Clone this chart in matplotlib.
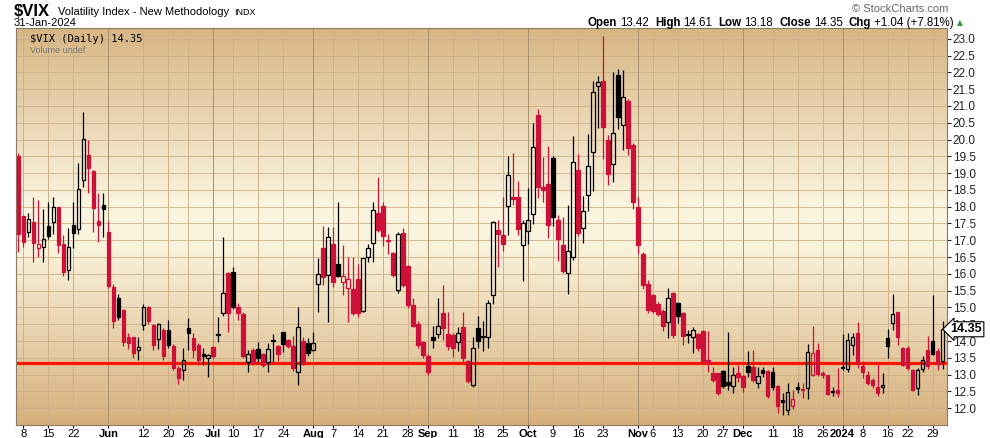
import matplotlib
matplotlib.use("Agg")
import matplotlib.pyplot as plt
import numpy as np
from matplotlib.patches import Rectangle
from matplotlib.colors import LinearSegmentedColormap

plt.rcParams["font.family"] = ["Liberation Sans", "DejaVu Sans"]

# daily OHLC, 5-May-2023 .. 31-Jan-2024
opens = [19.5, 17.72, 17.26, 17.55, 16.78, 16.81, 17.43, 17.53, 17.98, 16.9,
         16.1, 17.46, 17.34, 18.79, 19.54, 19.07, 17.56, 18.05, 17.26, 15.62,
         15.27, 14.92, 14.13, 14.13, 13.74, 14.47, 15.0, 14.48, 14.06, 14.34,
         14.34, 13.85, 13.2, 13.15, 14.4, 14.08, 13.88, 13.62, 13.48, 13.83,
         14.2, 14.83, 16.02, 16.07, 15.02, 14.8, 13.39, 13.73, 13.75, 13.61,
         13.39, 14.02, 13.86, 14.26, 14.03, 13.86, 13.09, 14.0, 13.95, 13.73,
         15.7, 16.76, 15.97, 16.89, 16.3, 15.77, 15.57, 15.54, 15.86, 14.88,
         16.51, 16.93, 17.8, 18.02, 17.0, 16.61, 15.52, 17.23, 16.24, 15.07,
         14.5, 13.96, 13.56, 14.13, 14.21, 14.83, 14.2, 14.17, 13.98, 14.43,
         13.4, 12.69, 14.38, 14.13, 14.11, 15.38, 17.32, 17.15, 18.01, 18.3,
         18.3, 16.85, 17.29, 17.79, 20.73, 18.6, 18.67, 19.45, 17.59, 16.85,
         16.03, 16.49, 19.1, 17.38, 18.34, 19.63, 21.6, 21.73, 20.0, 19.27,
         21.93, 20.43, 21.16, 19.85, 18.0, 16.59, 15.7, 15.37, 15.1, 14.9,
         14.58, 15.42, 15.14, 14.83, 14.2, 14.13, 14.2, 14.3, 13.44, 13.04,
         13.04, 13.12, 12.78, 12.66, 13.04, 12.96, 13.26, 13.24, 12.74, 13.14,
         13.12, 13.09, 12.66, 12.22, 11.95, 12.07, 12.62, 12.57, 12.6, 13.0,
         13.73, 13.05, 12.99, 12.5, 12.55, 13.22, 13.16, 13.88, 14.23, 13.25,
         13.0, 12.84, 12.62, 12.62, 14.08, 14.55, 14.85, 13.8, 13.78, 13.14,
         12.6, 13.16, 13.72, 14.0, 13.69, 13.42]
highs = [19.6, 17.75, 17.8, 18.3, 18.2, 17.92, 18.15, 18.28, 17.99, 17.16,
         17.38, 18.15, 19.31, 20.83, 19.99, 19.1, 18.4, 18.4, 17.56, 15.7,
         15.4, 14.95, 14.25, 14.13, 14.13, 15.1, 15.05, 14.5, 14.53, 14.4,
         14.64, 13.9, 13.25, 13.78, 14.68, 14.23, 13.95, 13.78, 13.6, 13.85,
         14.72, 17.11, 16.07, 16.2, 15.12, 14.85, 13.73, 13.78, 13.98, 13.65,
         13.93, 14.2, 13.88, 14.28, 14.05, 14.15, 15.02, 14.13, 14.08, 14.28,
         16.46, 17.43, 17.4, 17.4, 18.15, 16.86, 16.51, 16.51, 16.3, 16.48,
         16.9, 18.15, 18.89, 18.15, 17.2, 16.65, 17.26, 17.36, 16.26, 15.27,
         14.6, 14.0, 13.6, 14.45, 15.27, 15.67, 14.87, 14.23, 14.43, 14.87,
         13.45, 14.13, 14.74, 14.6, 15.22, 17.57, 17.6, 18.3, 19.5, 19.6,
         18.75, 17.61, 18.56, 20.49, 20.9, 19.47, 19.82, 19.5, 17.76, 17.68,
         18.06, 20.11, 19.57, 18.31, 20.16, 21.73, 21.9, 23.08, 20.14, 22.0,
         22.1, 22.08, 21.21, 19.9, 18.3, 16.65, 15.82, 15.4, 15.15, 14.95,
         15.57, 15.45, 15.17, 14.85, 14.33, 14.43, 14.23, 14.33, 14.3, 13.24,
         13.06, 13.15, 14.28, 13.24, 13.29, 13.0, 13.69, 13.74, 13.24, 13.24,
         13.15, 13.24, 12.7, 12.44, 12.74, 12.55, 12.79, 12.74, 13.91, 14.45,
         13.93, 13.1, 13.0, 12.62, 13.2, 14.2, 14.23, 14.23, 14.58, 13.4,
         13.1, 12.9, 13.33, 13.05, 14.35, 15.4, 14.87, 13.83, 13.85, 13.17,
         13.19, 13.56, 14.15, 15.37, 13.79, 14.61]
lows = [16.65, 16.8, 17.1, 16.35, 16.5, 16.35, 17.03, 17.2, 16.63, 15.95,
        15.82, 16.78, 17.2, 18.6, 18.4, 17.26, 16.96, 17.1, 15.57, 14.4,
        14.63, 13.85, 13.75, 13.49, 13.45, 14.34, 14.5, 13.73, 13.76, 13.45,
        13.8, 13.15, 12.72, 12.84, 13.73, 13.49, 13.3, 13.3, 12.92, 13.5,
        13.98, 14.74, 14.28, 14.95, 14.63, 13.49, 13.09, 13.3, 13.39, 13.24,
        13.09, 13.39, 13.4, 13.68, 13.8, 13.1, 12.7, 13.3, 13.55, 13.71,
        14.87, 15.67, 14.58, 15.6, 15.9, 15.37, 14.58, 14.77, 14.72, 14.85,
        16.36, 16.36, 17.25, 16.83, 16.6, 15.9, 15.44, 15.6, 14.97, 14.42,
        13.8, 13.5, 12.99, 13.78, 14.08, 14.03, 13.74, 13.53, 13.69, 13.39,
        12.74, 12.64, 13.78, 13.7, 13.79, 15.1, 16.2, 16.67, 17.17, 18.05,
        17.17, 15.78, 16.89, 17.49, 18.26, 18.14, 17.07, 17.42, 16.37, 16.03,
        15.4, 16.4, 17.12, 16.92, 17.86, 18.46, 20.34, 19.43, 18.64, 18.74,
        20.3, 19.7, 19.53, 17.94, 16.6, 15.55, 14.83, 14.83, 14.75, 14.3,
        14.08, 14.1, 14.55, 13.88, 13.93, 13.65, 13.7, 13.38, 13.09, 12.79,
        12.4, 12.6, 12.55, 12.45, 12.79, 12.47, 12.94, 12.79, 12.6, 12.94,
        12.3, 12.55, 11.85, 11.8, 11.8, 11.98, 12.45, 12.3, 12.27, 12.95,
        12.95, 12.9, 12.38, 12.35, 12.33, 13.15, 13.09, 13.58, 13.2, 12.9,
        12.7, 12.6, 12.35, 12.45, 13.48, 14.33, 13.88, 13.25, 13.15, 12.5,
        12.4, 13.09, 13.16, 13.59, 13.14, 13.18]
closes = [17.19, 16.96, 17.63, 16.92, 16.88, 17.03, 17.12, 17.99, 16.87, 16.05,
          16.81, 17.21, 18.53, 20.03, 19.14, 17.95, 17.46, 17.94, 15.65, 14.60,
          14.73, 13.96, 13.94, 13.65, 13.83, 15.01, 14.61, 13.88, 14.50, 13.54,
          13.88, 13.20, 12.91, 13.44, 14.25, 13.74, 13.43, 13.54, 13.59, 13.55,
          14.17, 15.44, 14.83, 15.02, 14.83, 13.54, 13.61, 13.34, 13.48, 13.30,
          13.76, 13.99, 13.60, 13.91, 13.86, 13.19, 14.41, 13.33, 13.63, 13.93,
          16.00, 15.92, 17.10, 15.77, 15.95, 15.93, 15.85, 14.84, 14.82, 16.46,
          16.78, 17.89, 17.30, 17.13, 16.97, 15.98, 17.20, 15.68, 15.08, 14.45,
          13.88, 13.57, 13.09, 14.02, 14.45, 14.40, 13.84, 13.80, 14.23, 13.48,
          12.82, 13.79, 14.00, 14.11, 15.14, 17.54, 17.20, 16.90, 18.94, 18.22,
          17.34, 17.52, 17.61, 19.78, 18.58, 18.49, 17.45, 17.70, 17.03, 16.09,
          16.69, 19.32, 17.21, 17.88, 19.22, 21.40, 21.71, 20.37, 18.97, 20.19,
          20.68, 21.27, 19.75, 18.14, 16.87, 15.66, 14.91, 14.89, 14.81, 14.45,
          15.29, 14.17, 14.76, 14.16, 14.18, 14.32, 13.80, 13.41, 13.35, 12.85,
          12.46, 12.66, 12.69, 12.98, 12.92, 12.63, 13.08, 12.85, 12.97, 13.06,
          12.35, 12.63, 12.07, 12.19, 12.48, 12.28, 12.56, 12.53, 13.67, 13.65,
          13.03, 12.99, 12.43, 12.47, 12.45, 13.20, 14.04, 14.13, 13.35, 13.08,
          12.76, 12.69, 12.44, 12.70, 13.84, 14.79, 14.13, 13.30, 13.19, 12.55,
          13.14, 13.45, 13.26, 13.60, 13.31, 14.35]
prev_close_start = 20.09

tick_idx = [1, 6, 11, 18, 25, 30, 34, 39, 43, 48, 53, 59, 63, 68, 73, 78,
            82, 87, 92, 97, 102, 107, 112, 117, 124, 127, 132, 137, 141,
            145, 151, 156, 161, 165, 169, 174, 178, 183]
tick_labels = ["8", "15", "22", "Jun", "12", "20", "26", "Jul", "10", "17",
               "24", "Aug", "7", "14", "21", "28", "Sep", "11", "18", "25",
               "Oct", "9", "16", "23", "Nov", "6", "13", "20", "27", "Dec",
               "11", "18", "26", "2024", "8", "16", "22", "29"]
month_names = ["Jun", "Jul", "Aug", "Sep", "Oct", "Nov", "Dec", "2024"]
support_level = 13.35

RED = "#cc1038"

fig = plt.figure(figsize=(9.9, 4.38), dpi=100)
ax = fig.add_axes([16 / 990, 13 / 438, 931 / 990, 397 / 438])
ymin, ymax = 11.50, 23.32
xmin, xmax = -0.5, 185.9
ax.set_xlim(xmin, xmax)
ax.set_ylim(ymin, ymax)

# tan -> cream -> tan background
cmap = LinearSegmentedColormap.from_list(
    "bg", [(0.0, "#d6b07c"), (0.45, "#faf3dc"), (0.55, "#fbf5e0"), (1.0, "#d8b684")])
grad = np.linspace(0, 1, 256).reshape(-1, 1)
ax.imshow(grad, cmap=cmap, aspect="auto", extent=[xmin, xmax, ymin, ymax],
          origin="lower", zorder=0)

for y in np.arange(12.0, 23.01, 0.5):
    ax.axhline(y, color="#cdb189", lw=0.6, zorder=1)
for i, lab in zip(tick_idx, tick_labels):
    col = "#a8916e" if lab in month_names else "#cdb189"
    ax.axvline(i, color=col, lw=0.7, zorder=1)

ax.axhline(support_level, color="#ff1500", lw=2.3, zorder=2)

w = 0.72
for i in range(len(closes)):
    o, h, l, c = opens[i], highs[i], lows[i], closes[i]
    prev = closes[i - 1] if i > 0 else prev_close_start
    color = RED if c < prev else "black"
    top, bot = max(o, c), min(o, c)
    ax.vlines(i, top, h, color=color, lw=0.9, zorder=3)
    ax.vlines(i, l, bot, color=color, lw=0.9, zorder=3)
    hgt = max(top - bot, 0.04)
    face = color if c < o else "none"
    ax.add_patch(Rectangle((i - w / 2, bot), w, hgt, facecolor=face,
                           edgecolor=color, lw=0.9, zorder=4))

ax.yaxis.tick_right()
ax.set_yticks(np.arange(12.0, 23.01, 0.5))
ax.set_yticklabels([f"{v:.1f}" for v in np.arange(12.0, 23.01, 0.5)])
ax.tick_params(axis="y", labelsize=8.5, length=3, pad=1, colors="#222222")
ax.set_xticks(tick_idx)
ax.set_xticklabels(tick_labels)
ax.tick_params(axis="x", labelsize=8, length=2, pad=1)
for t in ax.get_xticklabels():
    if t.get_text() in month_names:
        t.set_fontweight("bold")
for s in ax.spines.values():
    s.set_color("#8a7a66")
    s.set_linewidth(0.8)

# last price tag sits over the 14.5 label, as on the original
ax.text(1.004, closes[-1], f"{closes[-1]:.2f}", transform=ax.get_yaxis_transform(),
        fontsize=9, fontweight="bold", va="center", ha="left", zorder=10,
        bbox=dict(boxstyle="larrow,pad=0.12", fc="white", ec="black", lw=0.8))

# header
renderer = fig.canvas.get_renderer()
fig.text(14 / 990, 1 - 16 / 438, "$VIX", fontsize=12, fontweight="bold")
sub = fig.text(58 / 990, 1 - 15 / 438, "Volatility Index - New Methodology",
               fontsize=8)
sub_end = 58 + sub.get_window_extent(renderer).width
fig.text((sub_end + 5) / 990, 1 - 15 / 438, "INDX", fontsize=6.5)
fig.text(14 / 990, 1 - 26 / 438, "31-Jan-2024", fontsize=8)
fig.text(948 / 990, 1 - 12 / 438, "\u00a9 StockCharts.com", fontsize=8,
         color="#666666", ha="right")

hdr = [("Open", True), ("13.42", False), ("High", True), ("14.61", False),
       ("Low", True), ("13.18", False), ("Close", True), ("14.35", False),
       ("Chg", True), ("+1.04 (+7.81%)", False)]
px = 588
for txt, bold in hdr:
    t = fig.text(px / 990, 1 - 26 / 438, txt, fontsize=8.3,
                 fontweight="bold" if bold else "normal")
    px += t.get_window_extent(renderer).width + (3 if bold else 6)
fig.text((px - 3) / 990, 1 - 25.5 / 438, "\u25b2", fontsize=5.5,
         color="#2e9a3c", family="DejaVu Sans")

ax.text(0.015, 0.985, "$VIX (Daily) 14.35", transform=ax.transAxes,
        fontsize=7.5, family="DejaVu Sans Mono", va="top", zorder=6)
ax.text(0.015, 0.955, "Volume undef", transform=ax.transAxes,
        fontsize=6.5, color="#777777", va="top", zorder=6)

fig.savefig("out.png", dpi=100)
